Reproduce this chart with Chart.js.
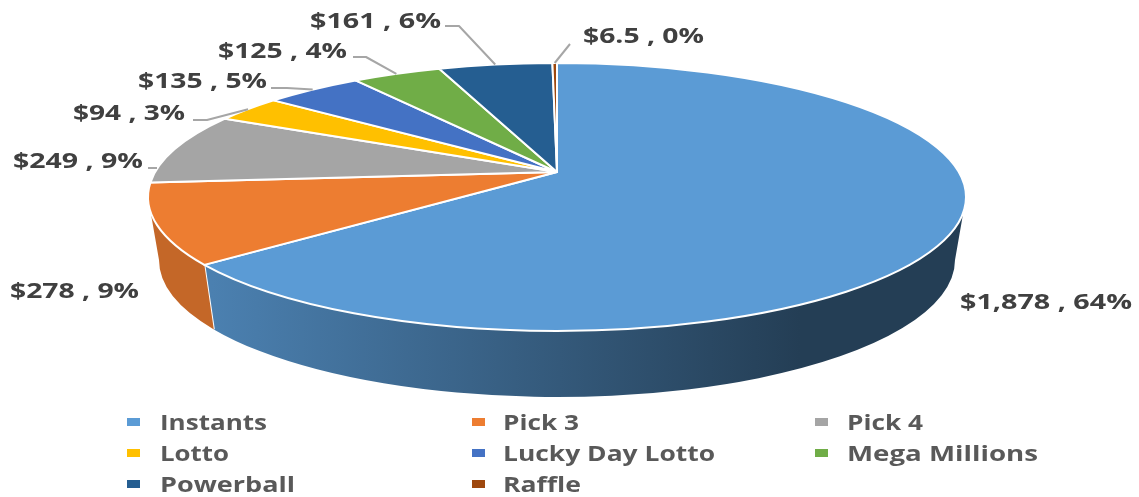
<!DOCTYPE html>
<html>
<head>
<meta charset="utf-8">
<style>
  html, body { margin: 0; background: #fff; }
  canvas { display: block; }
</style>
<script src="https://cdn.jsdelivr.net/npm/chart.js@4"></script>
</head>
<body>
<canvas id="chart" width="1139" height="497"></canvas>
<script>
// data
const categories = ['Instants', 'Pick 3', 'Pick 4', 'Lotto', 'Lucky Day Lotto', 'Mega Millions', 'Powerball', 'Raffle'];
const values = [1878, 278, 249, 94, 135, 125, 161, 6.5];
const dollarLabels = ['$1,878', '$278', '$249', '$94', '$135', '$125', '$161', '$6.5'];
const percents = [64, 9, 9, 3, 5, 4, 6, 0];
const colors = ['#5b9bd5', '#ed7d31', '#a5a5a5', '#ffc000', '#4472c4', '#70ad47', '#255e91', '#9e480e'];

// 3d look: top ellipse, bottom ellipse, apex of the slices
const TOP_RX = 409;
const BOTTOM_RX = 398, BOTTOM_RY = 137, BOTTOM_DY = 63;
const APEX_DY = -25;
const PERSPECTIVE = 11 * Math.PI / 180;

// text placement, same order as categories: [x, baseline, width]
const labelPos = [[960, 309, 172], [10, 298, 129], [13, 168, 130], [73, 120, 112], [138, 88, 129], [218, 58, 129], [310, 28, 131], [583, 43, 121]];
// leader lines: start, elbow, and a tip when it does not land on the slice middle
const leaders = {
  2: [[148, 168], [157, 168]],
  3: [[193, 120], [207, 120], null],
  4: [[271, 88], [287, 88], null],
  5: [[353, 57], [366, 57], null],
  6: [[445, 26], [459, 26], null],
  7: [[570, 44], null]
};
const legendPos = [[127, 160, 430, 107], [472, 503, 430, 76], [815, 847, 430, 76], [127, 160, 461, 69], [472, 503, 461, 212], [815, 847, 461, 191], [127, 160, 492, 135], [472, 503, 492, 78]];

function warp(a) {
  const t = a + Math.PI / 2;
  return t - PERSPECTIVE * Math.sin(t) - Math.PI / 2;
}

function shade(hex, k) {
  const n = parseInt(hex.slice(1), 16);
  return `rgb(${(n >> 16) * k | 0},${((n >> 8) & 255) * k | 0},${(n & 255) * k | 0})`;
}

function fitText(ctx, text, x, y, width) {
  ctx.save();
  ctx.translate(x, y);
  ctx.scale(width / ctx.measureText(text).width, 1);
  ctx.fillText(text, 0, 0);
  ctx.restore();
}

const pie3d = {
  id: 'pie3d',
  beforeDatasetDraw(chart, args) {
    const ctx = chart.ctx;
    const arcs = args.meta.data;
    const cx = arcs[0].x, cy = arcs[0].y;
    const rx = TOP_RX, ry = arcs[0].outerRadius;
    const bx = BOTTOM_RX, by = BOTTOM_RY, bcy = cy + BOTTOM_DY;

    // side walls, only the front half shows
    arcs.forEach((arc, i) => {
      const a = Math.max(warp(arc.startAngle), 0);
      const b = Math.min(warp(arc.endAngle), Math.PI);
      if (b <= a) return;
      const grad = ctx.createLinearGradient(212, 0, 800, 0);
      grad.addColorStop(0, shade(colors[i], 0.83));
      grad.addColorStop(1, shade(colors[i], 0.4));
      ctx.beginPath();
      ctx.ellipse(cx, cy, rx, ry, 0, a, b);
      ctx.ellipse(cx, bcy, bx, by, 0, b, a, true);
      ctx.closePath();
      ctx.fillStyle = grad;
      ctx.fill();
      if (b < Math.PI) {
        ctx.beginPath();
        ctx.moveTo(cx + rx * Math.cos(b), cy + ry * Math.sin(b));
        ctx.lineTo(cx + bx * Math.cos(b), bcy + by * Math.sin(b));
        ctx.strokeStyle = '#fff';
        ctx.lineWidth = 2;
        ctx.stroke();
      }
    });

    // top face
    ctx.lineJoin = 'round';
    arcs.forEach((arc, i) => {
      ctx.beginPath();
      ctx.moveTo(cx, cy + APEX_DY);
      ctx.ellipse(cx, cy, rx, ry, 0, warp(arc.startAngle), warp(arc.endAngle));
      ctx.closePath();
      ctx.fillStyle = colors[i];
      ctx.fill();
      ctx.strokeStyle = '#fff';
      ctx.lineWidth = 2;
      ctx.stroke();
    });
    return false;
  },
  afterDatasetsDraw(chart) {
    const ctx = chart.ctx;
    const arcs = chart.getDatasetMeta(0).data;
    const cx = arcs[0].x, cy = arcs[0].y, ry = arcs[0].outerRadius;

    // leader lines
    ctx.strokeStyle = '#a6a6a6';
    ctx.lineWidth = 2;
    Object.keys(leaders).forEach((k) => {
      const pts = leaders[k].map((p) => {
        if (p) return p;
        const m = (warp(arcs[k].startAngle) + warp(arcs[k].endAngle)) / 2;
        return [cx + TOP_RX * Math.cos(m), cy + ry * Math.sin(m)];
      });
      ctx.beginPath();
      pts.forEach((p, n) => n ? ctx.lineTo(p[0], p[1]) : ctx.moveTo(p[0], p[1]));
      ctx.stroke();
    });

    // data labels
    ctx.font = 'bold 21px "Open Sans"';
    ctx.fillStyle = '#404040';
    ctx.textAlign = 'left';
    ctx.textBaseline = 'alphabetic';
    categories.forEach((c, i) => {
      const p = labelPos[i];
      fitText(ctx, dollarLabels[i] + ' , ' + percents[i] + '%', p[0], p[1], p[2]);
    });

    // legend
    categories.forEach((c, i) => {
      const p = legendPos[i];
      ctx.fillStyle = colors[i];
      ctx.fillRect(p[0], p[2] - 12, 13, 8);
      ctx.fillStyle = '#595959';
      fitText(ctx, c, p[1], p[2], p[3]);
    });
  }
};

const chart = new Chart(document.getElementById('chart'), {
  type: 'pie',
  data: {
    labels: categories,
    datasets: [{
      data: values,
      backgroundColor: colors,
      borderWidth: 0
    }]
  },
  options: {
    responsive: false,
    animation: false,
    layout: { padding: { left: 148, right: 173, top: 63, bottom: 166 } },
    plugins: {
      legend: { display: false },
      tooltip: { enabled: false }
    }
  },
  plugins: [pie3d]
});
</script>
</body>
</html>
